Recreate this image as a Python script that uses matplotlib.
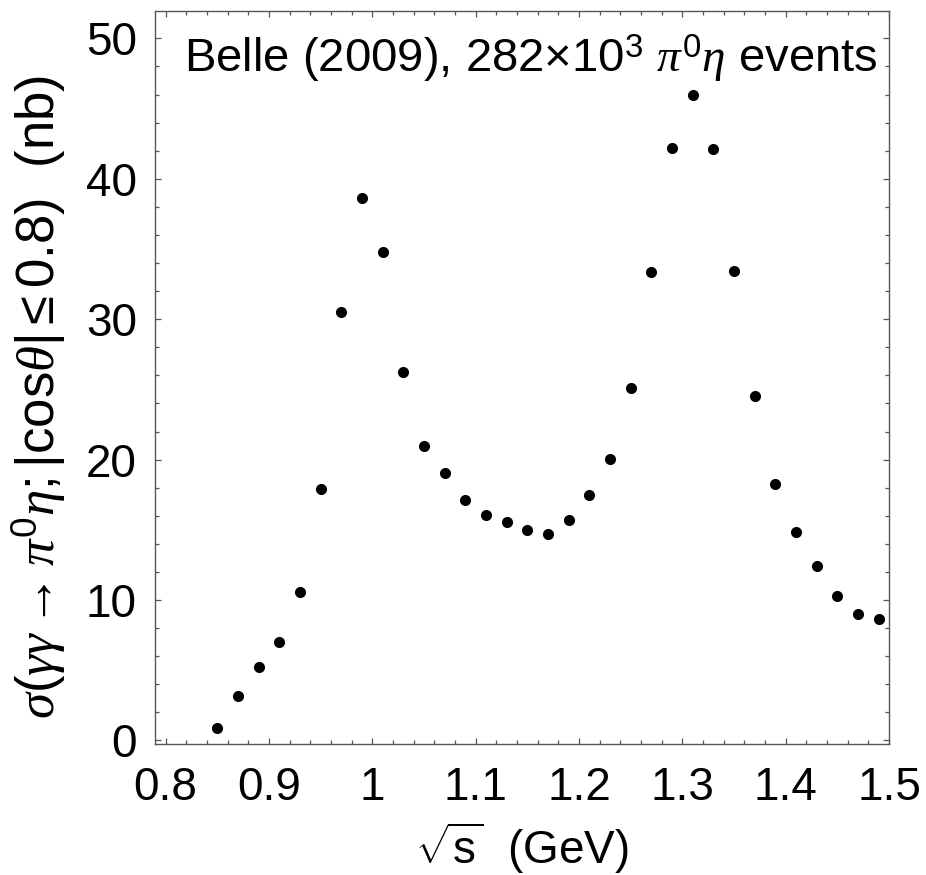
import matplotlib
matplotlib.use("Agg")
import matplotlib.pyplot as plt
from matplotlib.ticker import MultipleLocator, FixedLocator

# Data
sqrt_s = [0.85, 0.87, 0.89, 0.91, 0.93, 0.95, 0.97, 0.99, 1.01, 1.03, 1.05,
          1.07, 1.09, 1.11, 1.13, 1.15, 1.17, 1.19, 1.21, 1.23, 1.25, 1.27,
          1.29, 1.31, 1.33, 1.35, 1.37, 1.39, 1.41, 1.43, 1.45, 1.47, 1.49]
sigma_nb = [0.86, 3.18, 5.21, 6.99, 10.57, 17.88, 30.53, 38.61, 34.77, 26.26, 20.97,
            19.02, 17.10, 16.03, 15.56, 14.96, 14.72, 15.72, 17.48, 20.04, 25.1, 33.36,
            42.17, 45.95, 42.10, 33.41, 24.53, 18.28, 14.82, 12.42, 10.26, 8.98, 8.67]
x_ticks = [0.8, 0.9, 1.0, 1.1, 1.2, 1.3, 1.4, 1.5]
x_tick_labels = ["0.8", "0.9", "1", "1.1", "1.2", "1.3", "1.4", "1.5"]
y_ticks = [0, 10, 20, 30, 40, 50]

plt.rcParams['font.family'] = ['Liberation Sans', 'DejaVu Sans']
plt.rcParams['mathtext.fontset'] = 'custom'
plt.rcParams['mathtext.rm'] = 'Liberation Sans'
plt.rcParams['mathtext.it'] = 'Liberation Serif:italic'
plt.rcParams['mathtext.bf'] = 'Liberation Sans:bold'

fig = plt.figure(figsize=(9.26, 8.75), dpi=100)
ax = fig.add_axes([155/926, (875-744)/875, (889-155)/926, (744-11)/875])

ax.plot(sqrt_s, sigma_nb, 'o', color='black', markersize=8, markeredgewidth=0)

ax.set_xlim(0.7897, 1.5)
ax.set_ylim(-0.25, 51.95)

ax.xaxis.set_major_locator(FixedLocator(x_ticks))
ax.set_xticklabels(x_tick_labels)
ax.xaxis.set_minor_locator(MultipleLocator(0.02))
ax.yaxis.set_major_locator(FixedLocator(y_ticks))
ax.yaxis.set_minor_locator(MultipleLocator(2))

axis_color = '#555555'
for s in ax.spines.values():
    s.set_color(axis_color)
    s.set_linewidth(1.0)
ax.tick_params(which='both', direction='in', top=True, right=True,
               color=axis_color, width=0.9, labelsize=33, labelcolor='black')
ax.tick_params(which='major', length=4.5)
ax.tick_params(which='minor', length=2.8)
ax.tick_params(axis='x', which='major', pad=16)
ax.tick_params(axis='y', which='major', pad=13)

ax.set_xlabel(r'$\sqrt{\mathrm{s}}$  (GeV)', fontsize=33)
ax.xaxis.set_label_coords(0.5, -0.104)
ax.set_ylabel(r'$\sigma(\gamma\gamma\rightarrow\pi^0\eta;|\mathrm{cos}\theta|\leq 0.8)$  (nb)',
              fontsize=38)
ax.yaxis.set_label_coords(-0.118, 0.474)

ax.text(0.985, 0.97, r'Belle (2009), 282$\times$10$^3$ $\pi^0\eta$ events',
        transform=ax.transAxes, ha='right', va='top', fontsize=34)

fig.savefig('out.png', dpi=100)
